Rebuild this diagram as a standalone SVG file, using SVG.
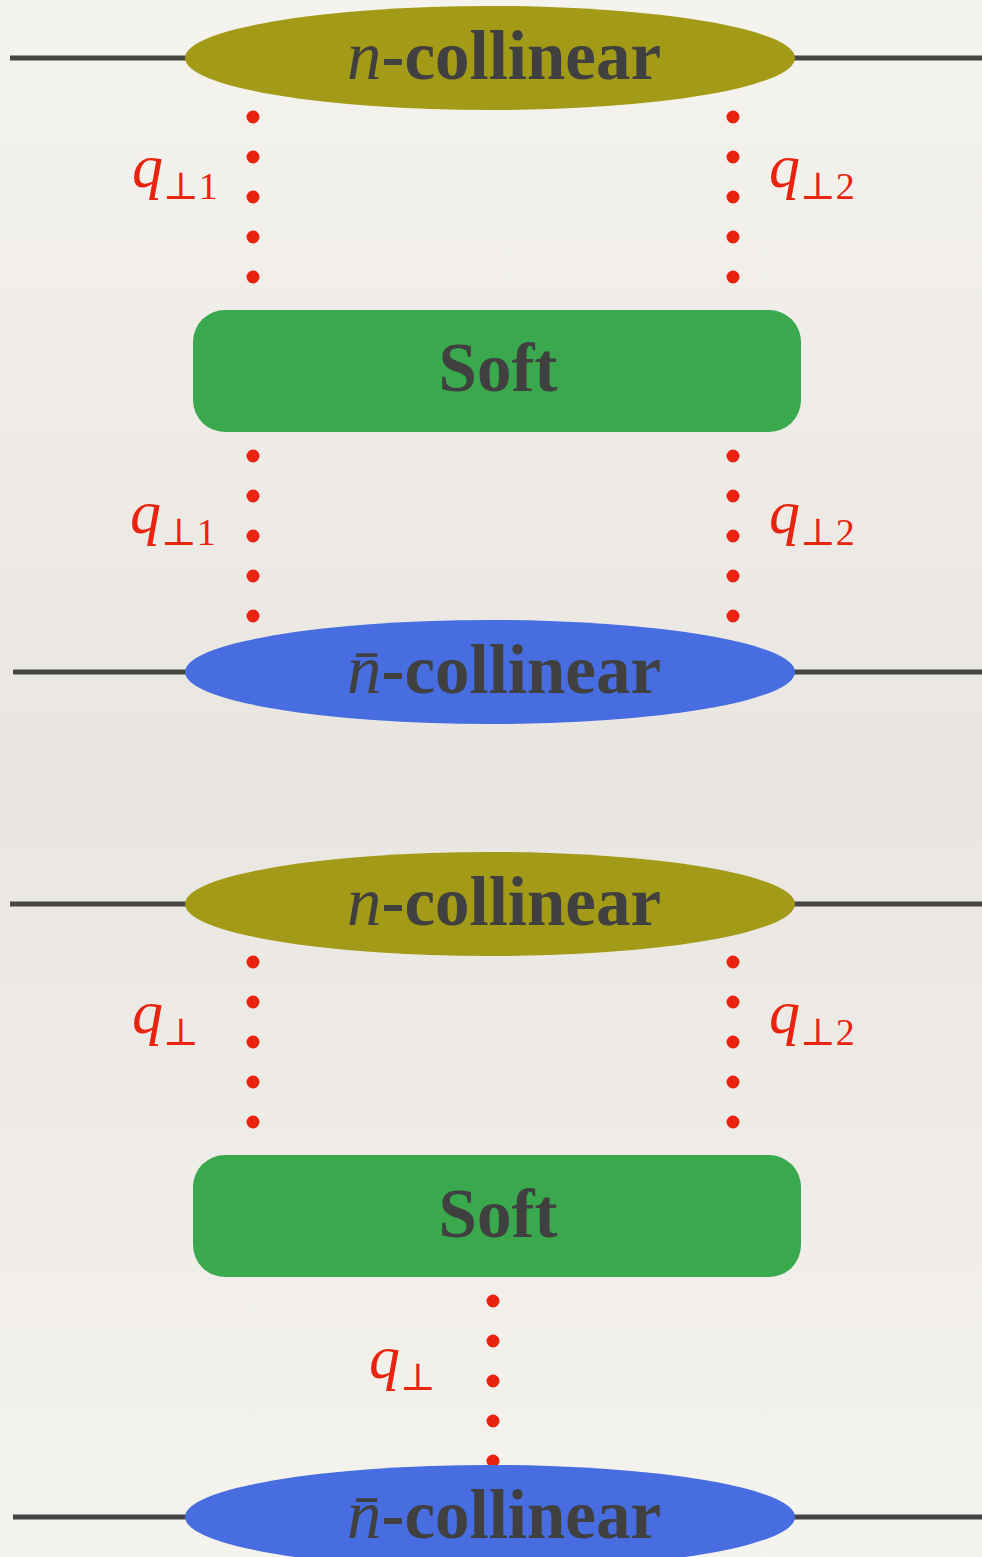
<svg xmlns="http://www.w3.org/2000/svg" width="982" height="1557" viewBox="0 0 982 1557">
<defs>
<linearGradient id="bg" x1="0" y1="0" x2="0" y2="1">
<stop offset="0" stop-color="#F5F3EE"/>
<stop offset="0.5" stop-color="#E9E6E1"/>
<stop offset="1" stop-color="#F5F3EE"/>
</linearGradient>
<style>
.wire{stroke:#454545;stroke-width:5;fill:none}
.dots{stroke:#E8230F;stroke-width:13;stroke-linecap:round;stroke-dasharray:0 40;fill:none}
.lbl{font-family:"Liberation Serif","DejaVu Serif",serif;font-style:italic;fill:#E8230F}
.sub{font-family:"Liberation Serif","DejaVu Serif",serif;font-style:normal;fill:#E8230F}
.nt{font-family:"Liberation Serif","DejaVu Serif",serif;font-weight:bold;fill:#404040;font-size:69px}
.ni{font-style:italic;font-weight:normal}
.olive{fill:#A39A17}
.blue{fill:#476DE0}
.green{fill:#3AA84C}
</style>
</defs>
<rect width="982" height="1557" fill="url(#bg)"/>
<g id="connectors">
<line class="wire" x1="10" y1="58" x2="190" y2="58"/>
<line class="wire" x1="790" y1="58" x2="982" y2="58"/>
<line class="wire" x1="13" y1="672" x2="190" y2="672"/>
<line class="wire" x1="790" y1="672" x2="982" y2="672"/>
<line class="wire" x1="10" y1="904" x2="190" y2="904"/>
<line class="wire" x1="790" y1="904" x2="982" y2="904"/>
<line class="wire" x1="13" y1="1517" x2="190" y2="1517"/>
<line class="wire" x1="790" y1="1517" x2="982" y2="1517"/>
<line class="dots" x1="253" y1="117" x2="253" y2="278"/>
<line class="dots" x1="733" y1="117" x2="733" y2="278"/>
<line class="dots" x1="253" y1="456" x2="253" y2="617"/>
<line class="dots" x1="733" y1="456" x2="733" y2="617"/>
<line class="dots" x1="253" y1="962" x2="253" y2="1123"/>
<line class="dots" x1="733" y1="962" x2="733" y2="1123"/>
<line class="dots" x1="493" y1="1301" x2="493" y2="1462"/>
</g>
<g id="labels">
<text class="lbl" x="132" y="187" font-size="62">q<tspan class="sub" font-size="38" dy="12">⊥1</tspan></text>
<text class="lbl" x="769" y="187" font-size="62">q<tspan class="sub" font-size="38" dy="12">⊥2</tspan></text>
<text class="lbl" x="130" y="533" font-size="62">q<tspan class="sub" font-size="38" dy="12">⊥1</tspan></text>
<text class="lbl" x="769" y="533" font-size="62">q<tspan class="sub" font-size="38" dy="12">⊥2</tspan></text>
<text class="lbl" x="132" y="1033" font-size="62">q<tspan class="sub" font-size="38" dy="12">⊥</tspan></text>
<text class="lbl" x="769" y="1033" font-size="62">q<tspan class="sub" font-size="38" dy="12">⊥2</tspan></text>
<text class="lbl" x="369" y="1378" font-size="62">q<tspan class="sub" font-size="38" dy="12">⊥</tspan></text>
</g>
<g id="n-collinear-1">
<ellipse class="olive" cx="490" cy="58" rx="305" ry="52"/>
<text class="nt" x="347" y="79" textLength="314" lengthAdjust="spacingAndGlyphs"><tspan class="ni">n</tspan>-collinear</text>
</g>
<g id="soft-1">
<rect class="green" x="193" y="310" width="608" height="122" rx="32"/>
<text class="nt" x="498" y="391" text-anchor="middle" style="font-size:69px">Soft</text>
</g>
<g id="nbar-collinear-1">
<ellipse class="blue" cx="490" cy="672" rx="305" ry="52"/>
<text class="nt" x="347" y="693" textLength="314" lengthAdjust="spacingAndGlyphs"><tspan class="ni">n̄</tspan>-collinear</text>
</g>
<g id="n-collinear-2">
<ellipse class="olive" cx="490" cy="904" rx="305" ry="52"/>
<text class="nt" x="347" y="925" textLength="314" lengthAdjust="spacingAndGlyphs"><tspan class="ni">n</tspan>-collinear</text>
</g>
<g id="soft-2">
<rect class="green" x="193" y="1155" width="608" height="122" rx="32"/>
<text class="nt" x="498" y="1237" text-anchor="middle" style="font-size:69px">Soft</text>
</g>
<g id="nbar-collinear-2">
<ellipse class="blue" cx="490" cy="1517" rx="305" ry="52"/>
<text class="nt" x="347" y="1538" textLength="314" lengthAdjust="spacingAndGlyphs"><tspan class="ni">n̄</tspan>-collinear</text>
</g>
</svg>
